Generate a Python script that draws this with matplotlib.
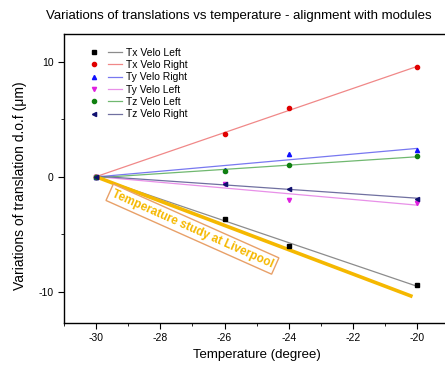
import numpy as np
import matplotlib
matplotlib.use('Agg')
import matplotlib.pyplot as plt
from matplotlib.lines import Line2D
from matplotlib.legend_handler import HandlerTuple
from matplotlib.ticker import MultipleLocator

plt.rcParams['font.family'] = ['Liberation Sans', 'DejaVu Sans']
plt.rcParams['axes.unicode_minus'] = False

temp = [-30, -26, -24, -20]
tx_left = [0, -3.7, -6.0, -9.4]
tx_right = [0, 3.7, 6.0, 9.5]
ty_right = [0, 0.6, 2.0, 2.3]
ty_left = [0, -0.6, -2.0, -2.3]
tz_left = [0, 0.5, 1.0, 1.8]
tz_right = [0, -0.6, -1.1, -1.9]

# liverpool reference line
liv_x = [-30, -20.2]
liv_y = [0, -10.35]

series = [
    ('Tx Velo Left', tx_left, 's', 'black', '#8c8c8c'),
    ('Tx Velo Right', tx_right, 'o', '#e00000', '#f08888'),
    ('Ty Velo Right', ty_right, '^', '#1010ff', '#7878f0'),
    ('Ty Velo Left', ty_left, 'v', '#e020e0', '#e890e8'),
    ('Tz Velo Left', tz_left, 'o', '#108010', '#70b870'),
    ('Tz Velo Right', tz_right, '<', '#101070', '#7070a0'),
]

fig = plt.figure(figsize=(4.45, 3.66), dpi=100)
ax = fig.add_axes([0.1438, 0.1175, 0.866, 0.7896])

x = np.array(temp, dtype=float)
xx = np.array([-30, -20])
handles = []
for name, vals, mk, mc, lc in series:
    k, b = np.polyfit(x, np.array(vals), 1)
    ax.plot(xx, k * xx + b, '-', color=lc, lw=0.9, zorder=2)
    ax.plot(x, vals, mk, color=mc, ms=3, ls='none', zorder=4)
    h1 = Line2D([], [], marker=mk, color=mc, ms=3, ls='none')
    h2 = Line2D([], [], color=lc, lw=0.9)
    handles.append((h1, h2))

ax.plot(liv_x, liv_y, '-', color='#f5b800', lw=2.6, zorder=3)
ax.text(-27.0, -4.55, 'Temperature study at Liverpool', rotation=-24,
        ha='center', va='center', color='#f5b800', fontsize=8.5, fontweight='bold',
        bbox=dict(boxstyle='square,pad=0.25', fc='white', ec='#e8a068', lw=1.0))

ax.legend(handles, [s[0] for s in series], loc='upper left',
          handler_map={tuple: HandlerTuple(ndivide=2, pad=0.6)},
          handlelength=3.4, fontsize=7.5, frameon=False, labelspacing=0.22,
          handletextpad=0.35, bbox_to_anchor=(0.035, 0.985))

ax.set_xlim(-31, -19)
ax.set_ylim(-12.7, 12.4)
ax.xaxis.set_major_locator(MultipleLocator(2))
ax.xaxis.set_minor_locator(MultipleLocator(1))
ax.yaxis.set_major_locator(MultipleLocator(10))
ax.yaxis.set_minor_locator(MultipleLocator(5))
ax.tick_params(which='both', direction='out', labelsize=7.5)
ax.tick_params(which='major', length=4)
ax.tick_params(which='minor', length=2.5)
for s in ax.spines.values():
    s.set_linewidth(1.0)

ax.set_xlabel('Temperature (degree)', fontsize=9.5)
ax.set_ylabel('Variations of translation d.o.f (\u03bcm)', fontsize=10)
ax.yaxis.set_label_coords(-0.096, 0.474)
fig.text(0.104, 0.955, 'Variations of translations vs temperature - alignment with modules',
         fontsize=9.55, ha='left', va='center')

fig.savefig('out.png', dpi=100)
